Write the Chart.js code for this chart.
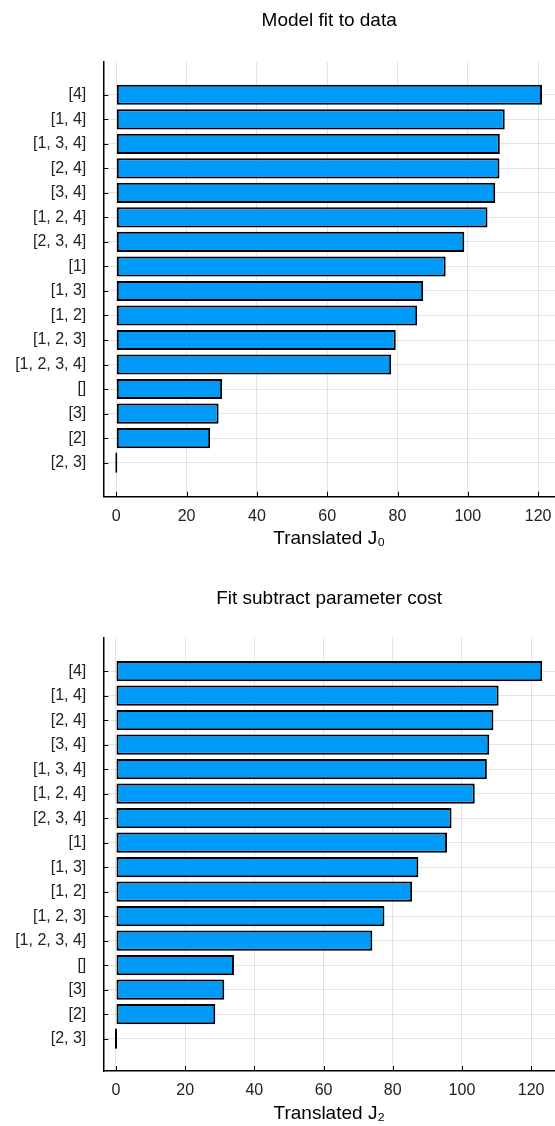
<!DOCTYPE html>
<html>
<head>
<meta charset="utf-8">
<script src="https://cdn.jsdelivr.net/npm/chart.js@4"></script>
<style>
  html, body { margin: 0; padding: 0; background: #fff; }
  .box { position: relative; width: 555px; height: 563px; }
</style>
</head>
<body>
<div class="box"><canvas id="fitChart"></canvas></div>
<div class="box"><canvas id="costChart"></canvas></div>
<script>
// top plot: model fit to data
const fitLabels = ['[4]', '[1, 4]', '[1, 3, 4]', '[2, 4]', '[3, 4]', '[1, 2, 4]', '[2, 3, 4]', '[1]',
  '[1, 3]', '[1, 2]', '[1, 2, 3]', '[1, 2, 3, 4]', '[]', '[3]', '[2]', '[2, 3]'];
const fitValues = [121.1, 110.5, 109.1, 109.0, 107.8, 105.6, 99.0, 93.7,
  87.3, 85.6, 79.5, 78.2, 30.1, 29.1, 26.7, 0];

// bottom plot: fit minus parameter cost
const costLabels = ['[4]', '[1, 4]', '[2, 4]', '[3, 4]', '[1, 3, 4]', '[1, 2, 4]', '[2, 3, 4]', '[1]',
  '[1, 3]', '[1, 2]', '[1, 2, 3]', '[1, 2, 3, 4]', '[]', '[3]', '[2]', '[2, 3]'];
const costValues = [123.2, 110.6, 109.1, 107.9, 107.2, 103.7, 97.0, 95.7,
  87.4, 85.6, 77.6, 74.1, 34.1, 31.3, 28.7, 0];

const xTicks = [0, 20, 40, 60, 80, 100, 120];

const barBlue = '#009af9';
const gridGrey = 'rgba(0,0,0,0.1)';
const family = '"Liberation Sans", Arial, sans-serif';

// small inward tick marks + title centred over the plot area
const plotDecor = {
  id: 'plotDecor',
  afterDraw(chart, args, opts) {
    const ctx = chart.ctx;
    const a = chart.chartArea;
    const xs = chart.scales.x;
    const ys = chart.scales.y;
    ctx.save();
    ctx.strokeStyle = '#000';
    ctx.lineWidth = 1;
    ctx.beginPath();
    xs.ticks.forEach(t => {
      const px = Math.round(xs.getPixelForValue(t.value)) + 0.5;
      ctx.moveTo(px, a.bottom);
      ctx.lineTo(px, a.bottom - 5);
    });
    ys.ticks.forEach(t => {
      const py = Math.round(ys.getPixelForValue(t.value)) + 0.5;
      ctx.moveTo(a.left, py);
      ctx.lineTo(a.left + 5, py);
    });
    ctx.stroke();
    ctx.font = '19px ' + family;
    ctx.fillStyle = '#000';
    ctx.textAlign = 'center';
    ctx.textBaseline = 'middle';
    ctx.fillText(opts.text, (a.left + a.right) / 2, opts.y);
    ctx.restore();
  }
};

function makeChart(id, labels, values, cfg) {
  return new Chart(document.getElementById(id), {
    type: 'bar',
    data: {
      datasets: [{
        data: values.map((v, i) => ({ x: v, y: i })),
        backgroundColor: barBlue,
        borderColor: '#000',
        borderWidth: 2,
        borderSkipped: false,
        minBarLength: 2,
        categoryPercentage: 1,
        barPercentage: 0.82
      }]
    },
    options: {
      indexAxis: 'y',
      responsive: true,
      maintainAspectRatio: false,
      animation: false,
      layout: { padding: { top: cfg.top, left: 0, right: 0, bottom: 0 } },
      plugins: {
        legend: { display: false },
        tooltip: { enabled: false },
        plotDecor: { text: cfg.title, y: cfg.titleY }
      },
      scales: {
        x: {
          type: 'linear',
          min: cfg.xMin,
          max: cfg.xMax,
          afterBuildTicks: s => { s.ticks = xTicks.map(v => ({ value: v })); },
          afterFit: s => { s.height = cfg.xHeight; s.paddingLeft = 0; s.paddingRight = 0; },
          grid: { color: gridGrey, drawTicks: false },
          border: { display: true, color: '#000', width: 1.5 },
          ticks: { padding: 10, color: '#222', font: { family, size: 16 }, maxRotation: 0 },
          title: {
            display: true,
            text: cfg.xTitle,
            color: '#000',
            font: { family, size: 19 },
            padding: { top: 0, bottom: cfg.xTitlePad }
          }
        },
        y: {
          type: 'linear',
          reverse: true,
          offset: false,
          min: cfg.yMin,
          max: cfg.yMax,
          afterBuildTicks: s => { s.ticks = labels.map((_, i) => ({ value: i })); },
          afterFit: s => { s.width = 103.3; s.paddingTop = 0; s.paddingBottom = 0; },
          grid: { color: gridGrey, drawTicks: false, offset: false },
          border: { display: true, color: '#000', width: 1.5 },
          ticks: {
            padding: 17,
            color: '#222',
            font: { family, size: 16 },
            autoSkip: false,
            callback: v => labels[v] ?? ''
          }
        }
      }
    },
    plugins: [plotDecor]
  });
}

makeChart('fitChart', fitLabels, fitValues, {
  title: 'Model fit to data', titleY: 21, top: 61.7,
  xMin: -3.7, xMax: 124.8, yMin: -1.35, yMax: 16.39,
  xHeight: 66.3, xTitle: 'Translated J\u2080', xTitlePad: 12.6
});

makeChart('costChart', costLabels, costValues, {
  title: 'Fit subtract parameter cost', titleY: 36, top: 74.3,
  xMin: -3.67, xMax: 126.9, yMin: -1.38, yMax: 16.32,
  xHeight: 55, xTitlePad: 0.6, xTitle: 'Translated J\u2082'
});
</script>
</body>
</html>
